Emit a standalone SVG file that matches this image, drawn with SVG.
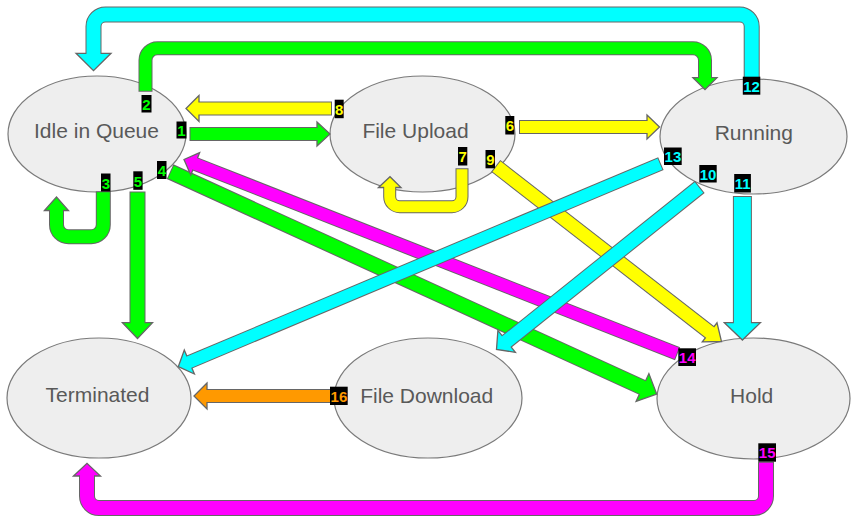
<svg xmlns="http://www.w3.org/2000/svg" width="858" height="530" viewBox="0 0 858 530">
<style>
.node ellipse{fill:#eeeeee;stroke:#7a7a7a;stroke-width:1.2}
.node text{font-family:"Liberation Sans",Arial,sans-serif;font-size:21px;fill:#595959;text-anchor:middle}
.ol{fill:none;stroke:#666;stroke-linejoin:round}
.sh{fill:none}
.hd{stroke:#666;stroke-width:1.3;stroke-linejoin:miter}
.g .sh{stroke:#00ff00}.g .hd{fill:#00ff00}
.y .sh{stroke:#ffff00}.y .hd{fill:#ffff00}
.c .sh{stroke:#00ffff}.c .hd{fill:#00ffff}
.m .sh{stroke:#ff00ff}.m .hd{fill:#ff00ff}
.o .sh{stroke:#ff9900}.o .hd{fill:#ff9900}
.lb rect{fill:#000}
.lb text{font-family:"Liberation Sans",Arial,sans-serif;font-size:15px;font-weight:bold;text-anchor:middle}
.lg{fill:#00ff00}.ly{fill:#ffff00}.lc{fill:#00ffff}.lm{fill:#ff00ff}.lo{fill:#ff9900}
</style>
<rect width="858" height="530" fill="#fff"/>
<g id="node-idle" class="node"><ellipse cx="97" cy="134" rx="89" ry="58"/><text x="96.5" y="137.7">Idle in Queue</text></g>
<g id="node-upload" class="node"><ellipse cx="422.5" cy="134" rx="92.5" ry="58"/><text x="415.5" y="137.7">File Upload</text></g>
<g id="node-running" class="node"><ellipse cx="753.5" cy="136.5" rx="93.5" ry="57.5"/><text x="753.8" y="140">Running</text></g>
<g id="node-terminated" class="node"><ellipse cx="99" cy="398" rx="92" ry="60"/><text x="97.5" y="402.3">Terminated</text></g>
<g id="node-download" class="node"><ellipse cx="428" cy="398" rx="94" ry="60"/><text x="426.7" y="403.3">File Download</text></g>
<g id="node-hold" class="node"><ellipse cx="753.5" cy="398.5" rx="96.5" ry="60.5"/><text x="751.7" y="403.3">Hold</text></g>
<g id="connectors">
<g id="c1" class="g"><path class="ol" stroke-width="14" d="M189.5,134H317"/><polygon class="hd" points="317,122 330,134 317,146"/><path class="sh" stroke-width="12" d="M190.5,134H318.5"/></g>
<g id="c2" class="g"><path class="ol" stroke-width="14" d="M145.5,91.7V60.3A12,12 0 0 1 157.5,48.3H693A12,12 0 0 1 705,60.3V77.7"/><polygon class="hd" points="693,77.7 705,89.5 717,77.7"/><path class="sh" stroke-width="12" d="M145.5,90.7V60.3A12,12 0 0 1 157.5,48.3H693A12,12 0 0 1 705,60.3V79.2"/></g>
<g id="c3" class="g"><path class="ol" stroke-width="15" d="M103.3,191.3V224.7A12,12 0 0 1 91.3,236.7H68.5A12,12 0 0 1 56.5,224.7V210.5"/><polygon class="hd" points="44.5,210.5 56.5,197 68.5,210.5"/><path class="sh" stroke-width="13" d="M103.3,192.3V224.7A12,12 0 0 1 91.3,236.7H68.5A12,12 0 0 1 56.5,224.7V209"/></g>
<g id="c5" class="g"><path class="ol" stroke-width="16" d="M137.5,191.5V322.7"/><polygon class="hd" points="122.5,322.7 137.5,338.5 152.5,322.7"/><path class="sh" stroke-width="14" d="M137.5,192.5V324.2"/></g>
<g id="c6" class="y"><path class="ol" stroke-width="14" d="M519,127H647"/><polygon class="hd" points="647,115 659.5,127 647,139"/><path class="sh" stroke-width="12" d="M520,127H648.5"/></g>
<g id="c7" class="y"><path class="ol" stroke-width="13" d="M462,168.3V196.7A10,10 0 0 1 452,206.7H399.7A10,10 0 0 1 389.7,196.7V187.5"/><polygon class="hd" points="378.5,187.5 390,176.7 401,187.5"/><path class="sh" stroke-width="11" d="M462,169.3V196.7A10,10 0 0 1 452,206.7H399.7A10,10 0 0 1 389.7,196.7V186"/></g>
<g id="c8" class="y"><path class="ol" stroke-width="14" d="M332,108.5H199"/><polygon class="hd" points="199,95.5 186,108.5 199,121.5"/><path class="sh" stroke-width="12" d="M331,108.5H197.5"/></g>
<g id="c16" class="o"><path class="ol" stroke-width="14" d="M331,396H207"/><polygon class="hd" points="207,383 194,396 207,409"/><path class="sh" stroke-width="12" d="M330,396H205.5"/></g>
<g id="c12" class="c"><path class="ol" stroke-width="16" d="M751.7,80V26.5A12,12 0 0 0 739.7,14.5H105.5A12,12 0 0 0 93.5,26.5V53.3"/><polygon class="hd" points="76,53.3 93.5,70.7 111,53.3"/><path class="sh" stroke-width="14" d="M751.7,79V26.5A12,12 0 0 0 739.7,14.5H105.5A12,12 0 0 0 93.5,26.5V54.8"/></g>
<g id="c11" class="c"><path class="ol" stroke-width="19" d="M742.4,196V322.7"/><polygon class="hd" points="724.4,322.7 742.4,340 760.4,322.7"/><path class="sh" stroke-width="17" d="M742.4,197V324.2"/></g>
<g id="c9" class="y"><path class="ol" stroke-width="15" d="M495.7,165.9L709.66,332.29"/><polygon class="hd" points="702.3,341.8 721.5,341.5 717,322.8"/><path class="sh" stroke-width="13" d="M496.5,166.5L710.8,333.2"/></g>
<g id="c4" class="g"><path class="ol" stroke-width="16" d="M170.1,171.6L642.5,387.5"/><polygon class="hd" points="636.1,401.4 656.7,394 648.9,373.6"/><path class="sh" stroke-width="14" d="M171,172L643.9,388.1"/></g>
<g id="c14" class="m"><path class="ol" stroke-width="14" d="M677.6,353.7L195.2,163.9"/><polygon class="hd" points="199.6,152.7 184,159.5 190.8,175.1"/><path class="sh" stroke-width="12" d="M676.7,353.3L193.8,163.4"/></g>
<g id="c13" class="c"><path class="ol" stroke-width="14" d="M660.9,163.6L189.36,362.05"/><polygon class="hd" points="194.4,374 178.3,366.7 184.3,350.1"/><path class="sh" stroke-width="12" d="M660,164L188,362.6"/></g>
<g id="c10" class="c"><path class="ol" stroke-width="15.5" d="M699.8,186.9L506.65,341.38"/><polygon class="hd" points="515.4,352.3 496.5,349.5 497.9,330.4"/><path class="sh" stroke-width="13.5" d="M699,187.5L505.5,342.3"/></g>
<g id="c15" class="m"><path class="ol" stroke-width="16" d="M766,461.7V496A12,12 0 0 1 754,508H99A12,12 0 0 1 87,496V476"/><polygon class="hd" points="73.5,476 87,463.3 100.5,476"/><path class="sh" stroke-width="14" d="M766,462.7V496A12,12 0 0 1 754,508H99A12,12 0 0 1 87,496V474.5"/></g>
</g>
<g id="labels" class="lb">
<rect x="176.5" y="121.5" width="10" height="17"/><text class="lg" x="181.5" y="136">1</text>
<rect x="141.5" y="95" width="10" height="17.5"/><text class="lg" x="146.5" y="110">2</text>
<rect x="101" y="173.5" width="9.5" height="18"/><text class="lg" x="105.8" y="188.5">3</text>
<rect x="157" y="161" width="9.5" height="18"/><text class="lg" x="161.8" y="176">4</text>
<rect x="133.3" y="171.3" width="9.3" height="18.5"/><text class="lg" x="138" y="186.5">5</text>
<rect x="505.3" y="116" width="9" height="18.5"/><text class="ly" x="509.8" y="131">6</text>
<rect x="458" y="147" width="9.3" height="18.5"/><text class="ly" x="462.7" y="162">7</text>
<rect x="334.7" y="99.7" width="9" height="18.5"/><text class="ly" x="339.2" y="114.7">8</text>
<rect x="485.5" y="150" width="9.5" height="18.3"/><text class="ly" x="490.3" y="165">9</text>
<rect x="699.3" y="165" width="17.4" height="17.5"/><text class="lc" x="708" y="179.5">10</text>
<rect x="734.2" y="174" width="16.7" height="18.5"/><text class="lc" x="742.6" y="189">11</text>
<rect x="742.8" y="76.7" width="17.5" height="18"/><text class="lc" x="751.6" y="91.5">12</text>
<rect x="664" y="147.5" width="17.7" height="17.5"/><text class="lc" x="672.9" y="162">13</text>
<rect x="678.3" y="348.3" width="17.7" height="17.7"/><text class="lm" x="687.2" y="363">14</text>
<rect x="758.3" y="443.3" width="17.7" height="18.4"/><text class="lm" x="767.2" y="458.3">15</text>
<rect x="330" y="386.7" width="17.7" height="18.3"/><text class="lo" x="338.9" y="401.5">16</text>
</g>
</svg>
